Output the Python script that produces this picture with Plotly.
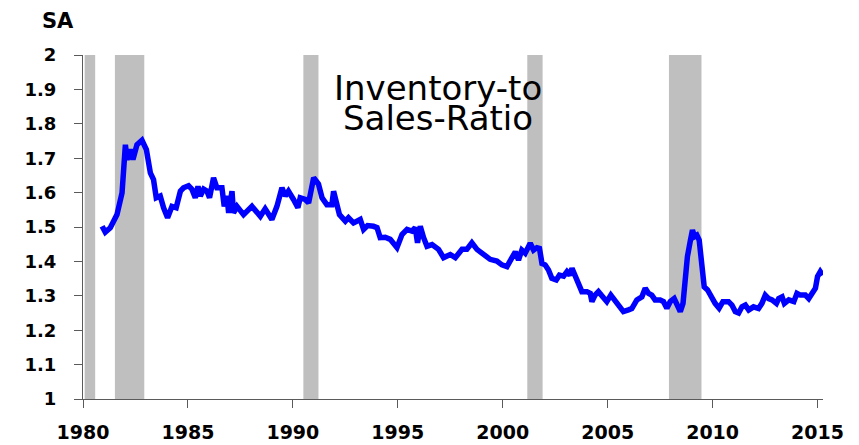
import plotly.graph_objects as go

# ---- data ----
years = [1980.91, 1981.06, 1981.30, 1981.62, 1981.86, 1982.02, 1982.10, 1982.25, 1982.38, 1982.57,
         1982.81, 1983.02, 1983.21, 1983.36, 1983.49, 1983.68, 1983.84, 1984.03, 1984.24, 1984.44,
         1984.64, 1984.79, 1985.03, 1985.19, 1985.35, 1985.48, 1985.59, 1985.75, 1985.91, 1986.03,
         1986.22, 1986.38, 1986.62, 1986.73, 1986.86, 1986.94, 1987.10, 1987.17, 1987.34, 1987.65,
         1988.05, 1988.45, 1988.68, 1989.00, 1989.24, 1989.48, 1989.64, 1989.79, 1990.03, 1990.24,
         1990.35, 1990.59, 1990.75, 1990.99, 1991.22, 1991.39, 1991.62, 1991.86, 1991.94, 1992.10,
         1992.22, 1992.50, 1992.65, 1992.89, 1993.21, 1993.37, 1993.56, 1993.84, 1994.01, 1994.16,
         1994.40, 1994.64, 1994.96, 1995.20, 1995.44, 1995.67, 1995.83, 1995.94, 1996.07, 1996.23,
         1996.39, 1996.63, 1996.94, 1997.18, 1997.50, 1997.74, 1998.06, 1998.29, 1998.53, 1998.77,
         1999.09, 1999.40, 1999.72, 1999.96, 2000.20, 2000.36, 2000.60, 2000.75, 2000.91, 2001.07,
         2001.31, 2001.47, 2001.63, 2001.75, 2001.87, 2002.02, 2002.18, 2002.34, 2002.55, 2002.70,
         2002.90, 2003.06, 2003.20, 2003.30, 2003.45, 2003.61, 2003.77, 2004.01, 2004.17, 2004.25,
         2004.40, 2004.56, 2004.80, 2004.96, 2005.15, 2005.36, 2005.56, 2005.75, 2005.99, 2006.15,
         2006.39, 2006.63, 2006.79, 2006.95, 2007.10, 2007.26, 2007.50, 2007.66, 2007.82, 2007.98,
         2008.17, 2008.30, 2008.46, 2008.59, 2008.69, 2008.80, 2008.93, 2009.04, 2009.14, 2009.25,
         2009.36, 2009.49, 2009.60, 2009.76, 2009.97, 2010.12, 2010.31, 2010.49, 2010.76, 2010.92,
         2011.08, 2011.24, 2011.40, 2011.56, 2011.72, 2011.95, 2012.19, 2012.35, 2012.51, 2012.67,
         2012.83, 2013.04, 2013.15, 2013.31, 2013.42, 2013.63, 2013.87, 2014.02, 2014.18, 2014.42,
         2014.58, 2014.74, 2014.90, 2015.00, 2015.13, 2015.24]
ratio = [1.502, 1.485, 1.498, 1.536, 1.599, 1.739, 1.696, 1.725, 1.696, 1.739,
         1.752, 1.725, 1.657, 1.638, 1.585, 1.590, 1.556, 1.527, 1.560, 1.556,
         1.604, 1.614, 1.620, 1.610, 1.585, 1.618, 1.590, 1.610, 1.604, 1.585,
         1.643, 1.614, 1.614, 1.560, 1.590, 1.541, 1.604, 1.541, 1.560, 1.536,
         1.560, 1.531, 1.553, 1.522, 1.560, 1.614, 1.590, 1.604, 1.580, 1.556,
         1.585, 1.580, 1.570, 1.643, 1.625, 1.585, 1.565, 1.565, 1.604, 1.565,
         1.536, 1.517, 1.527, 1.512, 1.522, 1.493, 1.504, 1.502, 1.498, 1.469,
         1.470, 1.464, 1.440, 1.478, 1.493, 1.488, 1.498, 1.454, 1.502, 1.469,
         1.444, 1.449, 1.435, 1.411, 1.420, 1.411, 1.435, 1.435, 1.454, 1.435,
         1.420, 1.406, 1.401, 1.390, 1.385, 1.404, 1.428, 1.404, 1.433, 1.424,
         1.453, 1.433, 1.440, 1.438, 1.394, 1.390, 1.375, 1.351, 1.346, 1.360,
         1.357, 1.370, 1.360, 1.380, 1.357, 1.326, 1.312, 1.312, 1.307, 1.283,
         1.302, 1.312, 1.297, 1.283, 1.302, 1.283, 1.268, 1.254, 1.259, 1.263,
         1.288, 1.297, 1.322, 1.307, 1.302, 1.288, 1.288, 1.283, 1.264, 1.283,
         1.292, 1.273, 1.254, 1.278, 1.346, 1.414, 1.457, 1.491, 1.472, 1.476,
         1.462, 1.385, 1.326, 1.317, 1.292, 1.278, 1.264, 1.283, 1.283, 1.273,
         1.254, 1.250, 1.268, 1.273, 1.259, 1.268, 1.263, 1.278, 1.302, 1.292,
         1.288, 1.278, 1.292, 1.297, 1.278, 1.288, 1.283, 1.307, 1.302, 1.302,
         1.292, 1.307, 1.322, 1.356, 1.370, 1.360]

recession_start = [1980.08, 1981.52, 1990.50, 2001.17, 2007.92]
recession_end = [1980.58, 1982.92, 1991.22, 2001.90, 2009.47]

x_ticks = [1980, 1985, 1990, 1995, 2000, 2005, 2010, 2015]
y_ticks = [1.0, 1.1, 1.2, 1.3, 1.4, 1.5, 1.6, 1.7, 1.8, 1.9, 2.0]
y_tick_text = ["1", "1.1", "1.2", "1.3", "1.4", "1.5", "1.6", "1.7", "1.8", "1.9", "2"]

title_lines = ["Inventory-to", "Sales-Ratio"]
unit_label = "SA"

FONT = "DejaVu Sans"
AXIS_COLOR = "#5a5a5a"

fig = go.Figure()
fig.add_trace(go.Scatter(x=years, y=ratio, mode="lines",
                         line=dict(color="#0000FF", width=5.5), hoverinfo="skip",
                         showlegend=False))

shapes = []
for s, e in zip(recession_start, recession_end):
    shapes.append(dict(type="rect", xref="x", yref="y", x0=s, x1=e, y0=1, y1=2,
                       fillcolor="#BFBFBF", line=dict(width=0), layer="below"))

annotations = [
    dict(text=unit_label, xref="paper", yref="paper", x=-0.058, y=1.098,
         xanchor="left", yanchor="middle", showarrow=False,
         font=dict(family=FONT, size=21, color="black", weight="bold")),
    dict(text=title_lines[0], xref="paper", yref="paper", x=0.4797, y=0.905,
         xanchor="center", yanchor="middle", showarrow=False,
         font=dict(family=FONT, size=34, color="black")),
    dict(text=title_lines[1], xref="paper", yref="paper", x=0.4797, y=0.818,
         xanchor="center", yanchor="middle", showarrow=False,
         font=dict(family=FONT, size=34, color="black")),
]

# the page body adds an 8px margin, so the figure is 8px smaller and offset
fig.update_layout(
    width=851, height=437, autosize=False,
    margin=dict(l=75, r=36, t=47, b=46, autoexpand=False),
    paper_bgcolor="white", plot_bgcolor="white",
    shapes=shapes, annotations=annotations,
    xaxis=dict(range=[1980, 2015.26], tickvals=x_ticks, showgrid=False, zeroline=False,
               automargin=False,
               showline=True, linecolor=AXIS_COLOR, linewidth=1,
               ticks="outside", ticklen=8, tickcolor=AXIS_COLOR, tickwidth=1,
               ticklabelstandoff=8,
               tickfont=dict(family=FONT, size=19, color="black", weight="bold")),
    yaxis=dict(range=[1, 2], tickvals=y_ticks, ticktext=y_tick_text, showgrid=False,
               automargin=False,
               zeroline=False, showline=True, linecolor=AXIS_COLOR, linewidth=1,
               ticks="outside", ticklen=8, tickcolor=AXIS_COLOR, tickwidth=1,
               ticklabelstandoff=14,
               tickfont=dict(family=FONT, size=18, color="black", weight="bold")),
)

fig.write_html("out.html")
